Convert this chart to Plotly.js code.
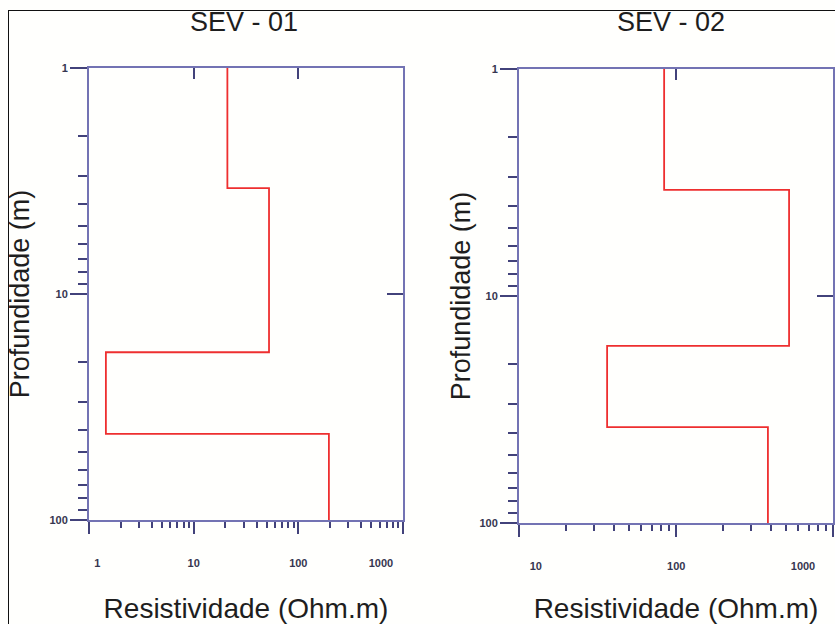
<!DOCTYPE html>
<html>
<head>
<meta charset="utf-8">
<script src="https://cdn.plot.ly/plotly-3.0.1.min.js"></script>
<style>
  html, body { margin: 0; padding: 0; background: #fffffd; }
  #wrap { position: relative; width: 835px; height: 624px; overflow: hidden; }
  #chart { width: 835px; height: 624px; }
  #frame { position: absolute; left: 8px; top: 10px; width: 900px; height: 700px;
           border-left: 1.5px solid #111; border-top: 1.5px solid #111; pointer-events: none; }
</style>
</head>
<body>
<div id="wrap">
  <div id="chart"></div>
  <div id="frame"></div>
</div>
<script>
// ---- data ----
const panelTitles = ['SEV - 01', 'SEV - 02'];
const sev01_rho = [21, 52.5, 1.45, 196];      // Ohm.m per layer
const sev01_top = [1, 3.4, 18.1, 41.6];       // top depth (m) per layer
const sev02_rho = [84, 525, 36.4, 385];
const sev02_top = [1, 3.41, 16.6, 37.8];
const maxDepth = 100;
const xTicks01 = [1, 10, 100, 1000];
const xTickText01 = ['1', '10', '100', '1000'];
const xTicks02 = [10, 100, 1000];
const xTickText02 = ['10', '100', '1000'];
const yTicks = [1, 10, 100];
const yTickText = ['1', '10', '100'];
const xTitle = 'Resistividade (Ohm.m)';
const yTitle = 'Profundidade (m)';

// ---- styles ----
const lineCol = '#7373b3';
const tickCol = '#42427a';
const lblCol = '#363650';
const txtCol = '#1e1e1e';
const FONT = 'Arial, "Liberation Sans", sans-serif';
const EN = '\u2002';

function stepTrace(rho, top, xa, ya) {
  return {
    type: 'scatter', mode: 'lines',
    x: rho.concat([rho[rho.length - 1]]),
    y: top.concat([maxDepth]),
    xaxis: xa, yaxis: ya,
    line: { shape: 'vh', color: '#ee2f2f', width: 1.8 },
    hoverinfo: 'x+y', showlegend: false
  };
}
// empty carrier so the frame axes (top / right) are drawn
function frameCarrier(xa, ya) {
  return { type: 'scatter', mode: 'lines', x: [], y: [], xaxis: xa, yaxis: ya,
           hoverinfo: 'skip', showlegend: false };
}

function minorVals(lo, hi) {
  const v = [];
  for (let d = lo; d < hi; d *= 10) for (let k = 2; k <= 9; k++) v.push(k * d);
  return v;
}

function xAxis(domain, range, tickvals, ticktext, anchor, shift) {
  return {
    type: 'log', domain: domain, range: range, anchor: anchor,
    showgrid: false, zeroline: false,
    showline: true, linecolor: lineCol, linewidth: 2,
    ticks: 'outside', ticklen: 12, tickwidth: 2, tickcolor: tickCol,
    tickmode: 'array', tickvals: tickvals, ticktext: ticktext,
    ticklabelstandoff: 20, ticklabelshift: shift,
    tickfont: { family: FONT, size: 11, color: lblCol, weight: 'bold' },
    minor: { tickmode: 'array', tickvals: minorVals(tickvals[0], 1000),
             ticks: 'outside', ticklen: 6, tickwidth: 2, tickcolor: tickCol, showgrid: false },
    title: { text: xTitle, standoff: 40, font: { family: FONT, size: 28, color: txtCol } },
    fixedrange: true
  };
}

function yAxis(domain, anchor, standoff) {
  return {
    type: 'log', domain: domain, range: [Math.log10(maxDepth), 0], anchor: anchor,
    showgrid: false, zeroline: false,
    showline: true, linecolor: lineCol, linewidth: 2,
    ticks: 'outside', ticklen: 17, tickwidth: 2, tickcolor: tickCol,
    tickmode: 'array', tickvals: yTicks, ticktext: yTickText,
    tickfont: { family: FONT, size: 11, color: lblCol, weight: 'bold' },
    minor: { tickmode: 'array', tickvals: minorVals(1, 100),
             ticks: 'outside', ticklen: 9, tickwidth: 2, tickcolor: tickCol, showgrid: false },
    title: { text: yTitle, standoff: standoff, font: { family: FONT, size: 27, color: txtCol } },
    fixedrange: true
  };
}

function topAxis(over, range, tickvals, anchor) {
  return {
    type: 'log', overlaying: over, side: 'top', anchor: anchor, range: range,
    showgrid: false, zeroline: false, showticklabels: false,
    showline: true, linecolor: lineCol, linewidth: 2,
    ticks: 'inside', ticklen: 11, tickwidth: 2, tickcolor: tickCol,
    tickmode: 'array', tickvals: tickvals, fixedrange: true
  };
}
function rightAxis(over, anchor) {
  return {
    type: 'log', overlaying: over, side: 'right', anchor: anchor,
    range: [Math.log10(maxDepth), 0],
    showgrid: false, zeroline: false, showticklabels: false,
    showline: true, linecolor: lineCol, linewidth: 2,
    ticks: 'inside', ticklen: 16, tickwidth: 2, tickcolor: tickCol,
    tickmode: 'array', tickvals: [10], fixedrange: true
  };
}

// nudge tick labels as placed in the reference (lead spaces push right, trailing push left)
const pad01 = [[3, 0], [0, 0], [0, 0], [0, 8]];
const pad02 = [[17, 0], [11, 0], [0, 0]];
const tt01 = xTickText01.map((t, i) => EN.repeat(pad01[i][0]) + t + EN.repeat(pad01[i][1]));
const tt02 = xTickText02.map((t, i) => EN.repeat(pad02[i][0]) + t + EN.repeat(pad02[i][1]));

const r01 = [Math.log10(xTicks01[0]), Math.log10(xTicks01[xTicks01.length - 1])];
const r02 = [Math.log10(xTicks02[0]), Math.log10(xTicks02[xTicks02.length - 1])];

const data = [
  stepTrace(sev01_rho, sev01_top, 'x', 'y'),
  stepTrace(sev02_rho, sev02_top, 'x2', 'y2'),
  frameCarrier('x3', 'y3'),
  frameCarrier('x4', 'y4')
];

const layout = {
  width: 835, height: 624,
  margin: { l: 89, r: 2, t: 68, b: 101 },
  paper_bgcolor: '#fffffd', plot_bgcolor: 'rgba(0,0,0,0)',
  showlegend: false,
  xaxis: xAxis([0, 0.422], r01, xTicks01, tt01, 'y', 0),
  yaxis: yAxis([0.0066, 1], 'x', 12),
  xaxis2: xAxis([0.578, 1], r02, xTicks02, tt02, 'y2', -30),
  yaxis2: yAxis([0, 0.9978], 'x2', 1),
  xaxis3: topAxis('x', r01, xTicks01, 'y3'),
  yaxis3: rightAxis('y', 'x3'),
  xaxis4: topAxis('x2', r02, xTicks02, 'y4'),
  yaxis4: rightAxis('y2', 'x4'),
  annotations: panelTitles.map((t, i) => ({
    text: t, xref: 'paper', yref: 'paper',
    x: i === 0 ? 0.2083 : 0.782, y: 1.101,
    xanchor: 'center', yanchor: 'middle', showarrow: false,
    font: { family: FONT, size: 27, color: txtCol }
  }))
};

Plotly.newPlot('chart', data, layout, { displayModeBar: false, staticPlot: true });
</script>
</body>
</html>
